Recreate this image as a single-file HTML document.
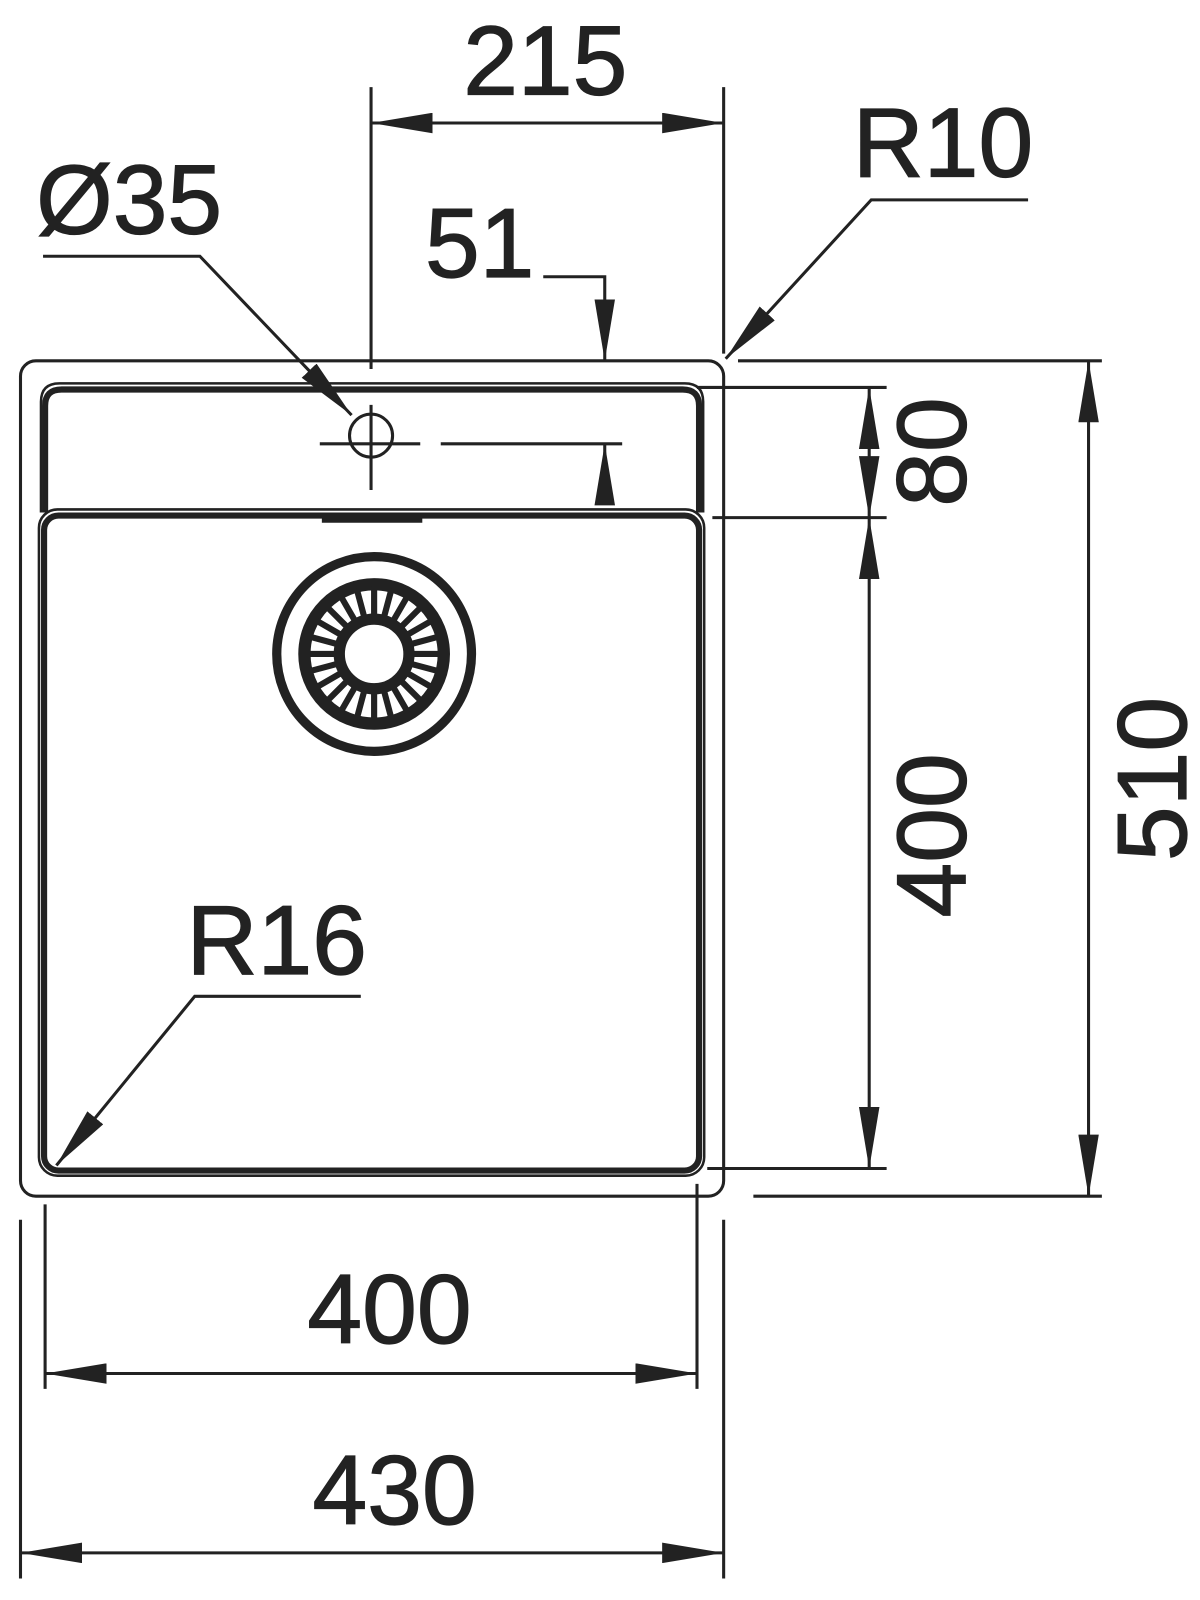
<!DOCTYPE html>
<html><head><meta charset="utf-8"><style>
html,body{margin:0;padding:0;background:#fff;}
svg{display:block}
text{font-family:"Liberation Sans",Arial,sans-serif;fill:#222;stroke:#222;stroke-width:1.2;}
</style></head><body>
<svg width="1200" height="1600" viewBox="0 0 1200 1600" xmlns="http://www.w3.org/2000/svg">
<defs>
<marker id="a" viewBox="0 0 60 20" refX="60" refY="10" markerWidth="60" markerHeight="20" markerUnits="userSpaceOnUse" orient="auto-start-reverse">
<path d="M0,0 L60,10 L0,20 Z" fill="#222"/>
</marker>
</defs>
<g transform="scale(1.025)" stroke="#222" fill="none" stroke-width="3">
<rect x="20" y="352" width="686" height="815" rx="15"/>
<path d="M40,500 L40,392 Q40,374 58,374 L668,374 Q686,374 686,392 L686,500" stroke-width="2.5"/>
<path d="M44,500 L44,396 Q44,380 60,380 L666,380 Q682,380 682,396 L682,500" stroke-width="6"/>
<rect x="38" y="497" width="649" height="650" rx="18" stroke-width="2.5"/>
<rect x="43" y="503" width="639" height="639" rx="14" stroke-width="6"/>
<rect x="314" y="503" width="98" height="7" fill="#222" stroke="none"/>
<circle cx="362" cy="425" r="21"/>
<line x1="312" y1="433" x2="410" y2="433"/>
<line x1="430" y1="433" x2="607" y2="433"/>
<line x1="362" y1="85" x2="362" y2="360"/>
<line x1="362" y1="395" x2="362" y2="478"/>
<circle cx="365" cy="638" r="95" stroke-width="9"/>
<circle cx="365" cy="638" r="68" stroke-width="12"/>
<circle cx="365" cy="638" r="34" stroke-width="11"/>
<g stroke-width="6">
<line x1="365" y1="599" x2="365" y2="572" transform="rotate(0 365 638)"/>
<line x1="365" y1="599" x2="365" y2="572" transform="rotate(15 365 638)"/>
<line x1="365" y1="599" x2="365" y2="572" transform="rotate(30 365 638)"/>
<line x1="365" y1="599" x2="365" y2="572" transform="rotate(45 365 638)"/>
<line x1="365" y1="599" x2="365" y2="572" transform="rotate(60 365 638)"/>
<line x1="365" y1="599" x2="365" y2="572" transform="rotate(75 365 638)"/>
<line x1="365" y1="599" x2="365" y2="572" transform="rotate(90 365 638)"/>
<line x1="365" y1="599" x2="365" y2="572" transform="rotate(105 365 638)"/>
<line x1="365" y1="599" x2="365" y2="572" transform="rotate(120 365 638)"/>
<line x1="365" y1="599" x2="365" y2="572" transform="rotate(135 365 638)"/>
<line x1="365" y1="599" x2="365" y2="572" transform="rotate(150 365 638)"/>
<line x1="365" y1="599" x2="365" y2="572" transform="rotate(165 365 638)"/>
<line x1="365" y1="599" x2="365" y2="572" transform="rotate(180 365 638)"/>
<line x1="365" y1="599" x2="365" y2="572" transform="rotate(195 365 638)"/>
<line x1="365" y1="599" x2="365" y2="572" transform="rotate(210 365 638)"/>
<line x1="365" y1="599" x2="365" y2="572" transform="rotate(225 365 638)"/>
<line x1="365" y1="599" x2="365" y2="572" transform="rotate(240 365 638)"/>
<line x1="365" y1="599" x2="365" y2="572" transform="rotate(255 365 638)"/>
<line x1="365" y1="599" x2="365" y2="572" transform="rotate(270 365 638)"/>
<line x1="365" y1="599" x2="365" y2="572" transform="rotate(285 365 638)"/>
<line x1="365" y1="599" x2="365" y2="572" transform="rotate(300 365 638)"/>
<line x1="365" y1="599" x2="365" y2="572" transform="rotate(315 365 638)"/>
<line x1="365" y1="599" x2="365" y2="572" transform="rotate(330 365 638)"/>
<line x1="365" y1="599" x2="365" y2="572" transform="rotate(345 365 638)"/>
</g>
<line x1="706" y1="85" x2="706" y2="345"/>
<line x1="362" y1="120" x2="706" y2="120" marker-start="url(#a)" marker-end="url(#a)"/>
<polyline points="1003,195 850,195 708,350" marker-end="url(#a)"/>
<polyline points="42,250 195,250 343,405" marker-end="url(#a)"/>
<polyline points="530,270 590,270 590,352" marker-end="url(#a)"/>
<line x1="590" y1="490" x2="590" y2="433" marker-end="url(#a)"/>
<line x1="680" y1="378" x2="865" y2="378"/>
<line x1="695" y1="505" x2="865" y2="505"/>
<line x1="690" y1="1140" x2="865" y2="1140"/>
<line x1="848" y1="441" x2="848" y2="378" marker-end="url(#a)"/>
<line x1="848" y1="441" x2="848" y2="505" marker-end="url(#a)"/>
<line x1="848" y1="505" x2="848" y2="1140" marker-start="url(#a)" marker-end="url(#a)"/>
<line x1="720" y1="352" x2="1075" y2="352"/>
<line x1="735" y1="1167" x2="1075" y2="1167"/>
<line x1="1062" y1="352" x2="1062" y2="1167" marker-start="url(#a)" marker-end="url(#a)"/>
<line x1="44" y1="1175" x2="44" y2="1355"/>
<line x1="680" y1="1155" x2="680" y2="1355"/>
<line x1="20" y1="1190" x2="20" y2="1540"/>
<line x1="706" y1="1190" x2="706" y2="1540"/>
<line x1="44" y1="1340" x2="680" y2="1340" marker-start="url(#a)" marker-end="url(#a)"/>
<line x1="20" y1="1515" x2="706" y2="1515" marker-start="url(#a)" marker-end="url(#a)"/>
<polyline points="352,972 190,972 55,1137" marker-end="url(#a)"/>
</g>
<g transform="scale(1.025)" font-size="96">
<text x="532" y="92" text-anchor="middle">215</text>
<text x="920" y="172" text-anchor="middle">R10</text>
<text x="126" y="228" text-anchor="middle">Ø35</text>
<text x="468" y="270" text-anchor="middle">51</text>
<text x="270" y="950" text-anchor="middle">R16</text>
<text x="380" y="1310" text-anchor="middle">400</text>
<text x="385" y="1487" text-anchor="middle">430</text>
<text transform="translate(942,441) rotate(-90)" text-anchor="middle">80</text>
<text transform="translate(942,815) rotate(-90)" text-anchor="middle">400</text>
<text transform="translate(1157,760) rotate(-90)" text-anchor="middle">510</text>
</g>
</svg>
</body></html>
